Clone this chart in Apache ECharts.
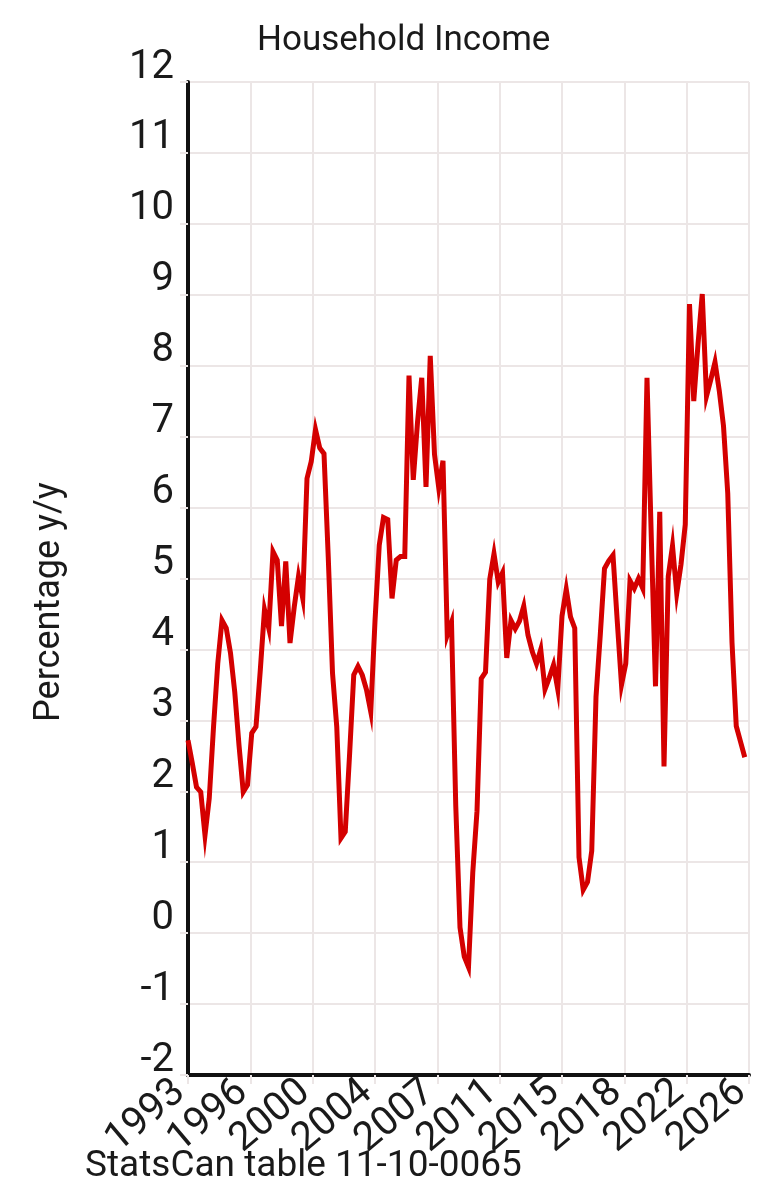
<!DOCTYPE html>
<html>
<head>
<meta charset="utf-8">
<title>Household Income</title>
<script src="https://cdn.jsdelivr.net/npm/echarts@6/dist/echarts.min.js"></script>
<style>
  html, body { margin: 0; padding: 0; background: #fff; }
  #chart { width: 780px; height: 1200px; }
</style>
</head>
<body>
<div id="chart"></div>
<script>
// quarterly y/y growth, 1993 Q1 .. 2025 Q4
var startYear = 1993;
var incomeGrowth = [
  2.72, 2.40, 2.06, 1.99, 1.38, 1.90, 2.90, 3.80, 4.41, 4.30,
  3.95, 3.40, 2.65, 1.99, 2.09, 2.82, 2.91, 3.70, 4.56, 4.30,
  5.38, 5.26, 4.33, 5.24, 4.09, 4.60, 5.03, 4.72, 6.41, 6.65,
  7.10, 6.84, 6.76, 5.30, 3.67, 2.91, 1.34, 1.43, 2.50, 3.64,
  3.76, 3.64, 3.43, 3.12, 4.40, 5.47, 5.86, 5.83, 4.72, 5.26,
  5.31, 5.31, 7.86, 6.39, 7.20, 7.83, 6.29, 8.14, 6.75, 6.28,
  6.66, 4.20, 4.38, 1.80, 0.08, -0.33, -0.48, 0.85, 1.72, 3.59,
  3.68, 4.99, 5.35, 4.95, 5.08, 3.88, 4.41, 4.29, 4.40, 4.61,
  4.20, 3.97, 3.80, 4.00, 3.44, 3.60, 3.78, 3.44, 4.47, 4.85,
  4.46, 4.30, 1.07, 0.61, 0.72, 1.16, 3.33, 4.20, 5.14, 5.25,
  5.33, 4.40, 3.50, 3.80, 4.97, 4.86, 5.00, 4.86, 7.83, 5.60,
  3.48, 5.94, 2.35, 5.03, 5.46, 4.79, 5.20, 5.76, 8.87, 7.50,
  8.30, 9.01, 7.57, 7.80, 8.05, 7.65, 7.15, 6.20, 4.10, 2.92,
  2.70, 2.48
];
var xTickLabels = ['1993', '1996', '2000', '2004', '2007', '2011', '2015', '2018', '2022', '2026'];
var yMin = -2, yMax = 12;

var gridColor = '#ece6e6';
var textColor = '#1a1a1a';
var fontFamily = 'Roboto';

// x is months since Jan 1993, one point per quarter
var lineData = incomeGrowth.map(function (v, i) {
  return [i * 3, v];
});

var myChart = echarts.init(document.getElementById('chart'));

myChart.setOption({
  animation: false,
  backgroundColor: '#fff',
  title: {
    text: 'Household Income',
    left: 252,
    top: 19,
    textStyle: {
      fontFamily: fontFamily,
      fontSize: 35,
      fontWeight: 'normal',
      color: textColor
    }
  },
  grid: {
    left: 188,
    right: 31,
    top: 82,
    bottom: 125,
    containLabel: false
  },
  xAxis: {
    type: 'value',
    min: 0,
    max: 396,
    interval: 44,
    axisLine: {
      onZero: false,
      lineStyle: { color: '#111', width: 4 }
    },
    axisTick: {
      show: true,
      length: 9,
      lineStyle: { color: gridColor, width: 2 }
    },
    splitLine: {
      show: true,
      lineStyle: { color: gridColor, width: 2 }
    },
    axisLabel: {
      rotate: 40,
      margin: 6,
      fontFamily: fontFamily,
      fontSize: 40,
      color: textColor,
      // trailing no-break space nudges the rotated label down-left
      formatter: function (v) {
        return xTickLabels[Math.round(v / 44)] + '\u00a0';
      }
    }
  },
  yAxis: {
    type: 'value',
    min: yMin,
    max: yMax,
    interval: 1,
    axisLine: {
      show: true,
      onZero: false,
      lineStyle: { color: '#111', width: 4 }
    },
    axisTick: {
      show: true,
      length: 8,
      lineStyle: { color: gridColor, width: 2 }
    },
    splitLine: {
      show: true,
      lineStyle: { color: gridColor, width: 2 }
    },
    axisLabel: {
      margin: 14,
      fontFamily: fontFamily,
      fontSize: 40,
      lineHeight: 29,
      color: textColor,
      verticalAlign: 'middle',
      // empty second line lifts the number so it sits on its grid line
      formatter: function (v) {
        return v + '\n';
      }
    }
  },
  graphic: [
    {
      type: 'text',
      x: 50,
      y: 602,
      rotation: Math.PI / 2,
      style: {
        text: 'Percentage y/y',
        fontFamily: fontFamily,
        fontSize: 36,
        fill: textColor,
        align: 'center',
        verticalAlign: 'middle'
      }
    },
    {
      type: 'text',
      x: 85,
      y: 1167,
      style: {
        text: 'StatsCan table 11-10-0065',
        fontFamily: fontFamily,
        fontSize: 37,
        fill: textColor,
        align: 'left',
        verticalAlign: 'middle'
      }
    }
  ],
  series: [
    {
      name: 'Household income',
      type: 'line',
      data: lineData,
      showSymbol: false,
      lineStyle: {
        color: '#d40000',
        width: 5,
        join: 'miter'
      }
    }
  ]
});
</script>
</body>
</html>
